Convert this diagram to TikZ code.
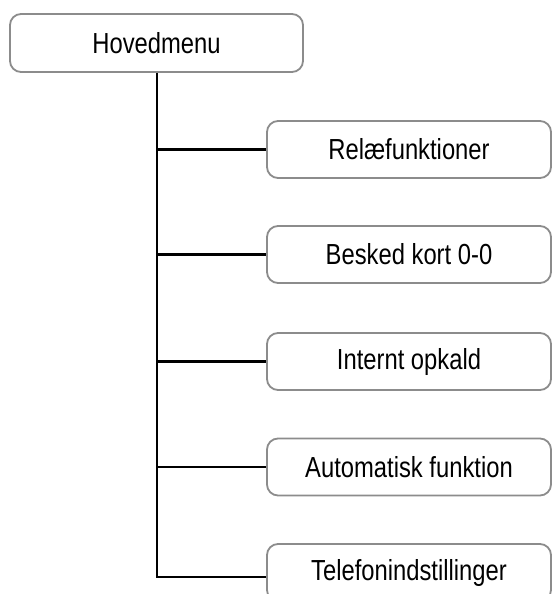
\documentclass[tikz,border=0pt]{standalone}
\usepackage{fontspec}
\setmainfont{Liberation Sans}[FakeStretch=0.82]
\begin{document}
\begin{tikzpicture}[x=1pt,y=-1pt,
  menubox/.style={draw=black!45, line width=1.8pt, rounded corners=11pt, fill=white,
    minimum height=57pt, inner sep=0pt, font=\fontsize{29}{34}\selectfont},
  childbox/.style={menubox, minimum width=284pt},
  conn/.style={line width=2.5pt, black}]
\useasboundingbox (0,0) rectangle (553,594);
\clip (0,0) rectangle (553,594);
\node[menubox, minimum width=293pt, minimum height=58pt] (h) at (156.5,43) {Hovedmenu};
\node[childbox] (b1) at (409,149.5) {Relæfunktioner};
\node[childbox] (b2) at (409,254.5) {Besked kort 0-0};
\node[childbox] (b3) at (409,361.5) {Internt opkald};
\node[childbox] (b4) at (409,467) {Automatisk funktion};
\node[childbox] (b5) at (409,572.5) {Telefonindstillinger};
\coordinate (te) at (157,577);
\draw[conn] (h.south -| te) -- (te) -- (te -| b5.west);
\foreach \b in {b1,b2,b3,b4} \draw[conn] (\b.west -| te) -- (\b.west);
\end{tikzpicture}
\end{document}
